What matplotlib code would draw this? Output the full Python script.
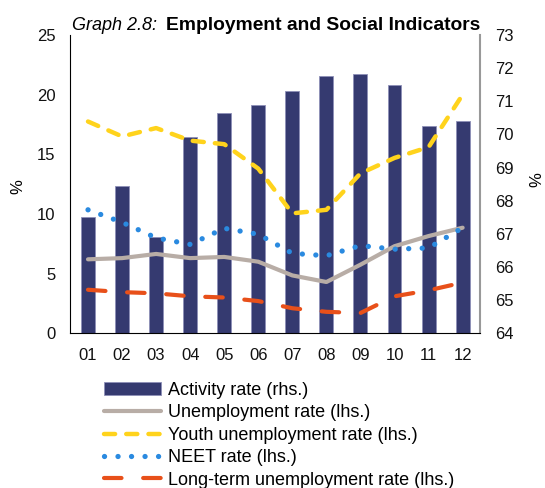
import numpy as np
import matplotlib.pyplot as plt

plt.rcParams['font.family'] = ['Liberation Sans', 'DejaVu Sans']

# data
years = ['01', '02', '03', '04', '05', '06', '07', '08', '09', '10', '11', '12']
activity = [67.5, 68.45, 66.9, 69.93, 70.65, 70.89, 71.3, 71.77, 71.83, 71.49, 70.26, 70.41]
unemployment = [6.2, 6.3, 6.65, 6.3, 6.4, 6.0, 4.85, 4.3, 5.75, 7.3, 8.15, 8.85]
youth = [17.75, 16.5, 17.2, 16.15, 15.85, 13.8, 10.05, 10.35, 13.4, 14.7, 15.6, 20.0]
neet = [10.35, 9.3, 8.0, 7.45, 8.8, 8.3, 6.7, 6.5, 7.35, 7.05, 7.15, 8.85]
long_term = [3.65, 3.45, 3.35, 3.1, 3.0, 2.7, 2.1, 1.8, 1.7, 3.1, 3.6, 4.25]

labels = ['Activity rate (rhs.)', 'Unemployment rate (lhs.)', 'Youth unemployment rate (lhs.)',
          'NEET rate (lhs.)', 'Long-term unemployment rate (lhs.)']

W, H = 545, 488
fig = plt.figure(figsize=(W / 100, H / 100), dpi=100)
x0, x1, ytop, ybot = 70.3, 480, 35, 333.3
ax = fig.add_axes([x0 / W, 1 - ybot / H, (x1 - x0) / W, (ybot - ytop) / H])

x = np.arange(len(years))

# bars on the right axis
bars = ax.bar(x, activity, width=0.41, bottom=0, color='#353a70', edgecolor='#8e8fb8', linewidth=0.6)
ax.set_ylim(64, 73)
ax.set_yticks(range(64, 74))
ax.set_xlim(-0.52, 11.51)
ax.set_xticks(x)
ax.set_xticklabels(years)

# lines on the left axis
ax2 = ax.twinx()
ax2.yaxis.tick_left()
ax.yaxis.tick_right()  # twinx moves the original ticks, so set again
ax2.set_ylim(0, 25)
ax2.set_yticks(range(0, 26, 5))

l_un, = ax2.plot(x, unemployment, color='#b8ada6', lw=3, solid_capstyle='round')
l_yo, = ax2.plot(x, youth, color='#ffd31c', lw=3.2, dashes=(2.5, 2.5), dash_capstyle='round')
l_ne, = ax2.plot(x, neet, color='#2a8ae0', lw=3.8, dashes=(0.01, 2.55), dash_capstyle='round')
l_lt, = ax2.plot(x, long_term, color='#e8501a', lw=3, dashes=(4.2, 5.2), dash_capstyle='round')

for a in (ax, ax2):
    a.tick_params(length=0, labelsize=12, pad=10.8, colors='#111111')
    for s in a.spines.values():
        s.set_visible(False)
ax.spines['left'].set_visible(True)
ax.spines['left'].set_color('black')
ax.spines['bottom'].set_visible(True)
ax.spines['bottom'].set_color('black')
ax.spines['right'].set_visible(True)
ax.spines['right'].set_color('#999999')
ax.spines['right'].set_linewidth(1.5)

# axis unit labels
fig.text(18 / W, 1 - 187 / H, '%', fontsize=12, rotation=90, ha='center', va='center')
fig.text(537 / W, 1 - 180 / H, '%', fontsize=12, rotation=90, ha='center', va='center')

# title: italic part left, bold part right
fig.text(72 / W, 1 - 29.5 / H, 'Graph 2.8:', fontsize=13, style='italic', ha='left', va='baseline')
fig.text(480 / W, 1 - 29.5 / H, 'Employment and Social Indicators', fontsize=13.9,
         weight='bold', ha='right', va='baseline')

fig.legend([bars, l_un, l_yo, l_ne, l_lt], labels, loc='upper left',
           bbox_to_anchor=(104 / W, 1 - 382 / H), frameon=False, fontsize=13,
           borderpad=0, borderaxespad=0, handlelength=3.15, handletextpad=0.39,
           labelspacing=0.30)

fig.savefig('out.png', dpi=100)
